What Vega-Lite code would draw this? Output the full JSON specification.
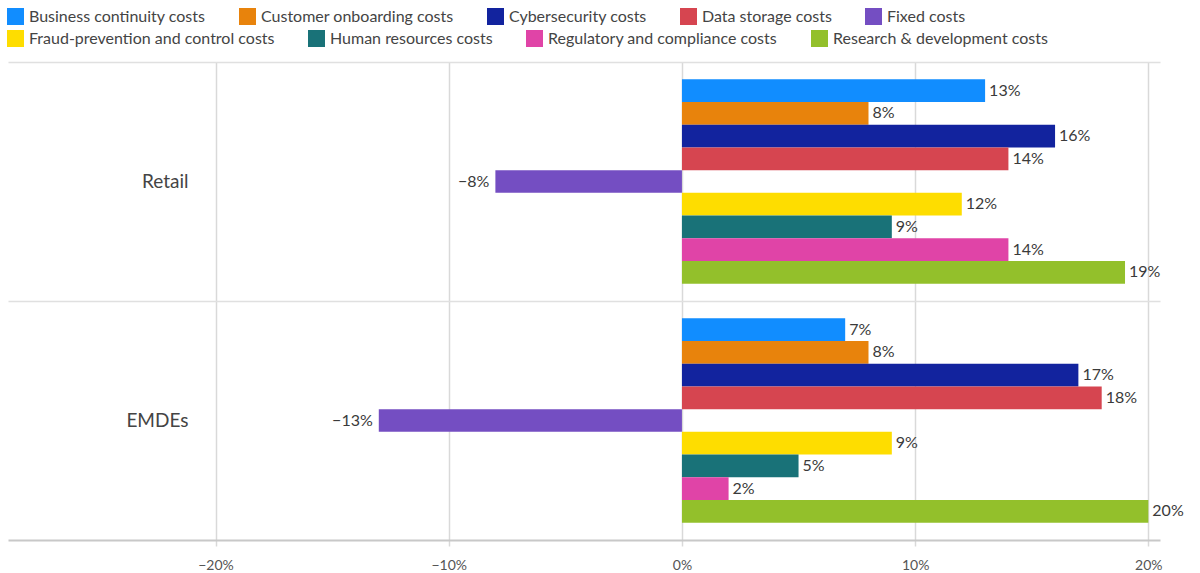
{
  "$schema": "https://vega.github.io/schema/vega-lite/v6.json",
  "autosize": "none",
  "width": 1152,
  "height": 478,
  "padding": {"left": 8, "top": 62, "right": 40, "bottom": 33},
  "background": "white",
  "config": {
    "font": "Lato",
    "view": {"stroke": null},
    "legend": {
      "title": null, "orient": "none", "direction": "horizontal",
      "columnPadding": 33, "symbolType": "square", "symbolSize": 289,
      "symbolStrokeWidth": 0, "symbolOpacity": 1,
      "labelFontSize": 16, "labelColor": "#444444", "labelFont": "Lato", "labelOffset": 5,
      "padding": 0, "labelLimit": 400
    }
  },
  "data": {
    "values": [
      {"region": "Retail", "cost": "Business continuity costs", "value": 0.13},
      {"region": "Retail", "cost": "Customer onboarding costs", "value": 0.08},
      {"region": "Retail", "cost": "Cybersecurity costs", "value": 0.16},
      {"region": "Retail", "cost": "Data storage costs", "value": 0.14},
      {"region": "Retail", "cost": "Fixed costs", "value": -0.08},
      {"region": "Retail", "cost": "Fraud-prevention and control costs", "value": 0.12},
      {"region": "Retail", "cost": "Human resources costs", "value": 0.09},
      {"region": "Retail", "cost": "Regulatory and compliance costs", "value": 0.14},
      {"region": "Retail", "cost": "Research & development costs", "value": 0.19},
      {"region": "EMDEs", "cost": "Business continuity costs", "value": 0.07},
      {"region": "EMDEs", "cost": "Customer onboarding costs", "value": 0.08},
      {"region": "EMDEs", "cost": "Cybersecurity costs", "value": 0.17},
      {"region": "EMDEs", "cost": "Data storage costs", "value": 0.18},
      {"region": "EMDEs", "cost": "Fixed costs", "value": -0.13},
      {"region": "EMDEs", "cost": "Fraud-prevention and control costs", "value": 0.09},
      {"region": "EMDEs", "cost": "Human resources costs", "value": 0.05},
      {"region": "EMDEs", "cost": "Regulatory and compliance costs", "value": 0.02},
      {"region": "EMDEs", "cost": "Research & development costs", "value": 0.20}
    ]
  },
  "encoding": {
    "y": {
      "field": "region", "type": "nominal", "sort": ["Retail", "EMDEs"],
      "scale": {"paddingInner": 0, "paddingOuter": 0},
      "axis": {
        "title": null, "ticks": false, "domain": false,
        "labelPadding": -180, "labelFontSize": 19, "labelColor": "#444444", "labelFont": "Lato",
        "grid": true, "bandPosition": 0, "gridColor": "#e0e0e0", "gridWidth": 1.5
      }
    },
    "yOffset": {
      "field": "cost", "type": "nominal",
      "sort": ["Business continuity costs", "Customer onboarding costs", "Cybersecurity costs", "Data storage costs", "Fixed costs", "Fraud-prevention and control costs", "Human resources costs", "Regulatory and compliance costs", "Research & development costs"],
      "scale": {"paddingInner": 0, "paddingOuter": 0.76}
    },
    "x": {
      "field": "value", "type": "quantitative",
      "scale": {"domain": [-0.289, 0.205], "nice": false, "zero": false},
      "axis": {
        "title": null, "values": [-0.2, -0.1, 0, 0.1, 0.2], "format": ".0%",
        "grid": true, "gridColor": "#d9d9d9", "gridWidth": 1.5,
        "domainColor": "#c8c8c8", "domainWidth": 2,
        "tickColor": "#d9d9d9", "tickSize": 6, "tickWidth": 1.5,
        "labelFontSize": 14, "labelColor": "#555555", "labelPadding": 12, "labelFont": "Lato"
      }
    }
  },
  "layer": [
    {
      "transform": [{"filter": {"field": "cost", "oneOf": ["Business continuity costs", "Customer onboarding costs", "Cybersecurity costs", "Data storage costs", "Fixed costs"]}}],
      "mark": {"type": "bar", "orient": "horizontal"},
      "encoding": {
        "x2": {"datum": 0},
        "color": {
          "field": "cost", "type": "nominal",
          "scale": {
            "domain": ["Business continuity costs", "Customer onboarding costs", "Cybersecurity costs", "Data storage costs", "Fixed costs"],
            "range": ["#118dff", "#e8830c", "#12239e", "#d64550", "#744ec2"]
          },
          "legend": {"legendX": -1, "legendY": -54}
        }
      }
    },
    {
      "transform": [{"filter": {"field": "cost", "oneOf": ["Fraud-prevention and control costs", "Human resources costs", "Regulatory and compliance costs", "Research & development costs"]}}],
      "mark": {"type": "bar", "orient": "horizontal"},
      "encoding": {
        "x2": {"datum": 0},
        "fill": {
          "field": "cost", "type": "nominal",
          "scale": {
            "domain": ["Fraud-prevention and control costs", "Human resources costs", "Regulatory and compliance costs", "Research & development costs"],
            "range": ["#fedd00", "#197278", "#e044a7", "#93c02b"]
          },
          "legend": {"legendX": -1, "legendY": -32}
        }
      }
    },
    {
      "transform": [{"filter": "datum.value >= 0"}],
      "mark": {"type": "text", "align": "left", "baseline": "middle", "dx": 4, "fontSize": 16, "color": "#3a3a3a", "font": "Lato"},
      "encoding": {"text": {"field": "value", "format": ".0%"}}
    },
    {
      "transform": [{"filter": "datum.value < 0"}],
      "mark": {"type": "text", "align": "right", "baseline": "middle", "dx": -6, "fontSize": 16, "color": "#3a3a3a", "font": "Lato"},
      "encoding": {"text": {"field": "value", "format": ".0%"}}
    }
  ]
}
